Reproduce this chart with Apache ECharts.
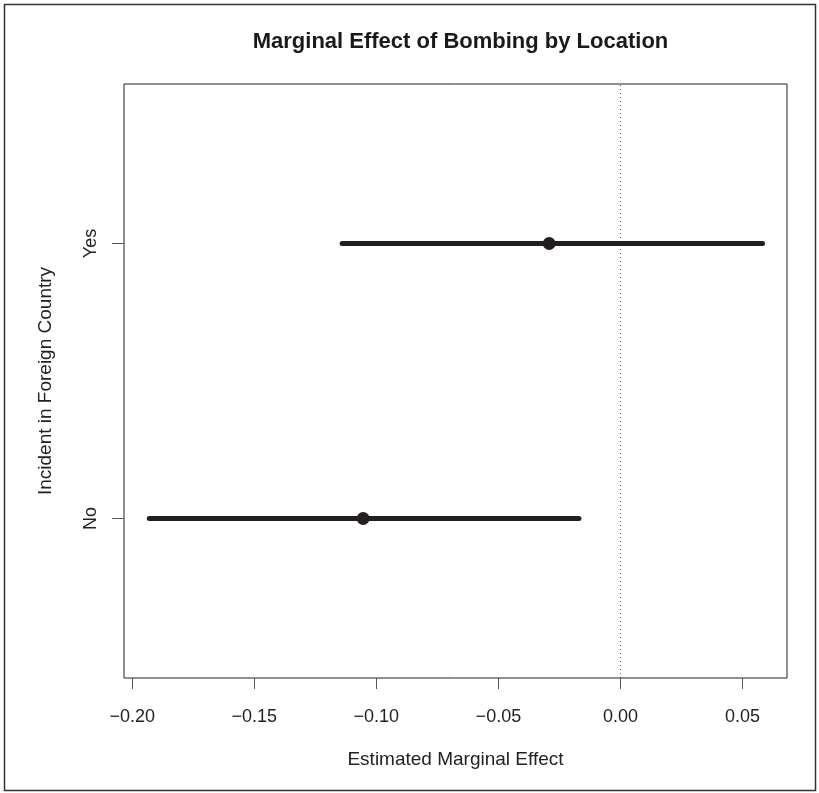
<!DOCTYPE html>
<html>
<head>
<meta charset="utf-8">
<script src="https://cdn.jsdelivr.net/npm/echarts@6/dist/echarts.min.js"></script>
<style>
html,body{margin:0;padding:0;background:#fff;}
#chart{width:819px;height:793px;}
</style>
</head>
<body>
<div id="chart"></div>
<script>
// Data
const categories = ['No', 'Yes'];
const categoryPositions = [1, 2];
const estimates = [-0.1054, -0.0292];
const lowerBounds = [-0.1930, -0.1140];
const upperBounds = [-0.0170, 0.0582];
const xTickValues = [-0.20, -0.15, -0.10, -0.05, 0.00, 0.05];
const refLineX = 0;

const FONT = '"Liberation Sans", Arial, Helvetica, sans-serif';
const INK = '#231f20';

function fmtTick(v) {
  const s = Math.abs(v).toFixed(2);
  return v < -1e-9 ? '\u2212' + s : s;
}

const yMin = 0.42, yMax = 2.58;
const xMin = -0.20336, xMax = 0.06822;

const series = [];
// dotted reference line at zero
series.push({
  type: 'line',
  data: [[refLineX, yMin], [refLineX, yMax]],
  symbol: 'none',
  silent: true,
  lineStyle: { color: '#555', width: 1, type: [1, 3] },
  z: 1
});
categories.forEach((c, i) => {
  series.push({
    type: 'line',
    name: c + ' CI',
    data: [[lowerBounds[i], categoryPositions[i]], [upperBounds[i], categoryPositions[i]]],
    symbol: 'none',
    lineStyle: { color: INK, width: 5, cap: 'round' },
    z: 2
  });
});
series.push({
  type: 'scatter',
  data: estimates.map((e, i) => [e, categoryPositions[i]]),
  symbol: 'circle',
  symbolSize: 13,
  itemStyle: { color: INK, opacity: 1 },
  z: 3
});

const chart = echarts.init(document.getElementById('chart'), null, { renderer: 'canvas' });
chart.setOption({
  animation: false,
  backgroundColor: '#fff',
  title: {
    text: 'Marginal Effect of Bombing by Location',
    left: 455.5,
    textAlign: 'center',
    top: 26,
    textStyle: { fontFamily: FONT, fontWeight: 'bold', fontSize: 22, color: '#1a1a1a' }
  },
  grid: {
    left: 124, right: 32, top: 84, bottom: 115,
    show: true, borderColor: '#222', borderWidth: 1, backgroundColor: 'transparent'
  },
  xAxis: {
    type: 'value',
    min: xMin, max: xMax,
    name: 'Estimated Marginal Effect',
    nameLocation: 'middle',
    nameGap: 72,
    nameTextStyle: { fontFamily: FONT, fontSize: 19, color: '#222' },
    axisLine: { show: false, onZero: false },
    splitLine: { show: false },
    axisTick: { show: true, length: 11, inside: false, customValues: xTickValues, lineStyle: { color: '#555', width: 1 } },
    axisLabel: { show: true, customValues: xTickValues, formatter: fmtTick, margin: 30, fontFamily: FONT, fontSize: 18, color: '#222' }
  },
  yAxis: {
    type: 'value',
    min: yMin, max: yMax,
    name: 'Incident in Foreign Country',
    nameLocation: 'middle',
    nameGap: 69,
    nameRotate: 90,
    nameTextStyle: { fontFamily: FONT, fontSize: 19, color: '#222' },
    axisLine: { show: false, onZero: false },
    splitLine: { show: false },
    axisTick: { show: true, length: 12, customValues: categoryPositions, lineStyle: { color: '#555', width: 1 } },
    axisLabel: {
      show: true, customValues: categoryPositions, rotate: 90, margin: 33,
      formatter: v => categories[categoryPositions.indexOf(v)] || '',
      fontFamily: FONT, fontSize: 18, color: '#222', verticalAlign: 'middle', align: 'center'
    }
  },
  graphic: [{
    type: 'rect',
    shape: { x: 4.5, y: 4.5, width: 811, height: 786 },
    style: { fill: 'none', stroke: '#333', lineWidth: 1.5 },
    silent: true
  }],
  series: series
});
</script>
</body>
</html>
